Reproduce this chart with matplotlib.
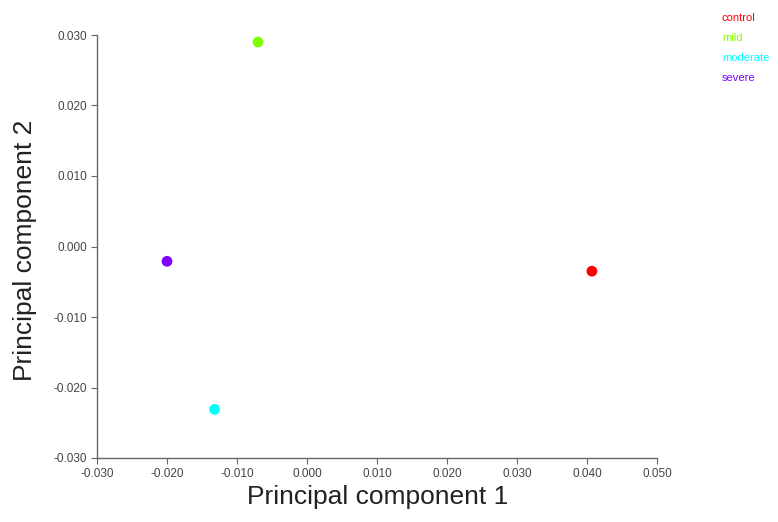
import matplotlib
matplotlib.use("Agg")
import matplotlib.pyplot as plt

plt.rcParams["font.family"] = ["Liberation Sans", "DejaVu Sans"]

groups = ["control", "mild", "moderate", "severe"]
pc1 = [0.0407, -0.0070, -0.0132, -0.0200]
pc2 = [-0.0035, 0.0290, -0.0231, -0.0021]
colors = ["#FF0000", "#80FF00", "#00FFFF", "#8000FF"]
xticks = [-0.03, -0.02, -0.01, 0.0, 0.01, 0.02, 0.03, 0.04, 0.05]
yticks = [-0.03, -0.02, -0.01, 0.0, 0.01, 0.02, 0.03]

W, H = 778, 522
fig = plt.figure(figsize=(W/100, H/100), dpi=100)
ax = fig.add_axes([97/W, 1-458/H, (657-97)/W, (458-35)/H])

for x, y, c in zip(pc1, pc2, colors):
    ax.scatter([x], [y], s=60, color=c, edgecolors="none", zorder=3)

ax.set_xlim(-0.03, 0.05)
ax.set_ylim(-0.03, 0.03)
ax.set_xticks(xticks)
ax.set_yticks(yticks)
ax.set_xticklabels([f"{v:.3f}" for v in xticks])
ax.set_yticklabels([f"{v:.3f}" for v in yticks])
for s in ["top", "right"]:
    ax.spines[s].set_visible(False)
for s in ["left", "bottom"]:
    ax.spines[s].set_color("#666666")
    ax.spines[s].set_linewidth(1.0)
ax.tick_params(axis="both", direction="out", length=4, width=0.8, color="#666666",
               labelsize=8.5, labelcolor="#444444", pad=3)
ax.set_xlabel("Principal component 1", fontsize=19, color="#222222")
ax.set_ylabel("Principal component 2", fontsize=19, color="#222222")
ax.xaxis.set_label_coords((378 - 97) / (657 - 97), -(497 - 458) / (458 - 35))
ax.yaxis.set_label_coords(-(97 - 25) / (657 - 97), (458 - 250) / (458 - 35))
ax.xaxis.label.set_va("center")
ax.yaxis.label.set_va("center")

for i, (g, c) in enumerate(zip(groups, colors)):
    fig.text(722/W, 1 - (18 + 20*i)/H, g, color=c, fontsize=8, va="center", ha="left")

fig.savefig("out.png", dpi=100)
